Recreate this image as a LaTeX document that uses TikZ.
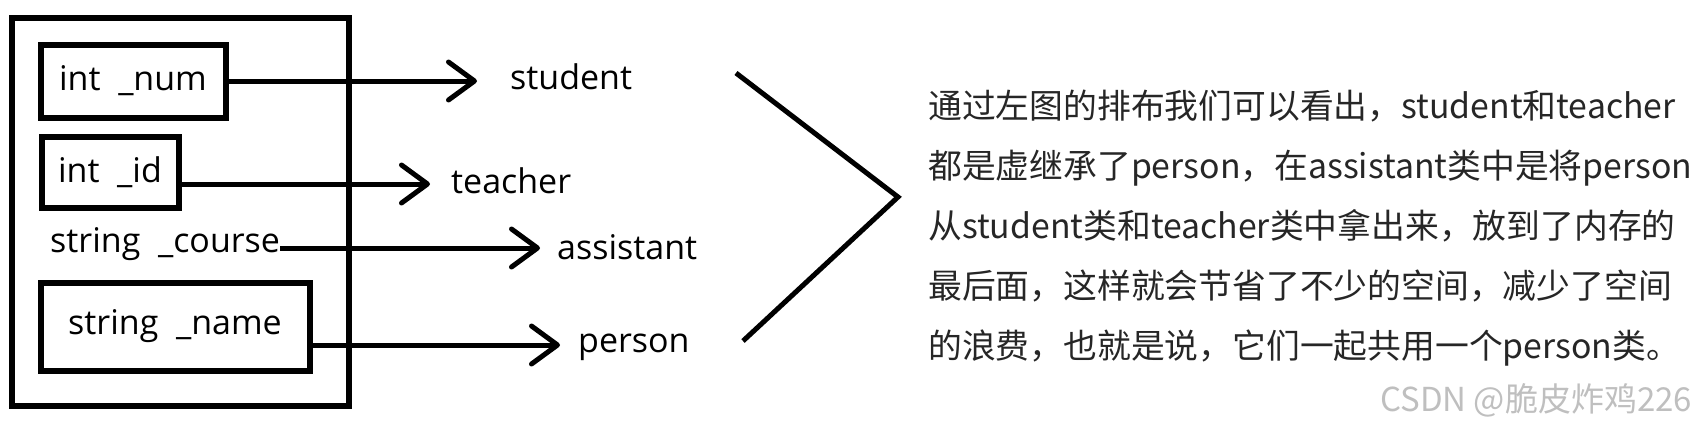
\documentclass[tikz,border=0pt]{standalone}
\usepackage{fontspec}
\setmainfont{Open Sans}
\newfontfamily\cjk{Noto Sans CJK SC}
\usetikzlibrary{arrows.meta}
\tikzset{
  field/.style={draw,line width=6pt,inner sep=0pt},
  label/.style={inner sep=0pt,anchor=base west},
  link/.style={line width=5pt,-{Straight Barb[length=26pt,width=38pt,line cap=round,line join=round]}}
}
\begin{document}
\begin{tikzpicture}[x=1pt,y=-1pt,font=\fontsize{34}{40}\selectfont]
\useasboundingbox (0,0) rectangle (1701,429);
\draw[line width=6pt] (12,18) rectangle (349,406);
\node[field,minimum width=185pt,minimum height=73pt] (num) at (133,81) {int\ \ \_num};
\node[field,minimum width=137pt,minimum height=71pt] (id) at (110,172) {int\ \ \_id};
\node[inner sep=0pt,anchor=base west] (course) at (50,252) {string\ \ \_course};
\node[field,minimum width=269pt,minimum height=88pt] (name) at (175,326.5) {string\ \ \_name};

\node[label] (stu) at (510,89) {student};
\node[label] (tea) at (451,193) {teacher};
\node[label] (asst) at (557,259) {assistant};
\node[label] (pers) at (578,352) {person};

\draw[link,shorten >=33pt] (num.east |- 0,81) -- (stu.west |- 0,81);
\draw[link,shorten >=21pt] (id.east |- 0,184) -- (tea.west |- 0,184);
\draw[link,shorten >=17pt] (course.east |- 0,248) -- (asst.west |- 0,248);
\draw[link,shorten >=18pt] (name.east |- 0,345) -- (pers.west |- 0,345);

\coordinate (top) at (736,73);
\coordinate (tip) at (898,197);
\coordinate (bot) at (743,341);
\draw[line width=5pt] (top) -- (tip) -- (bot);

\node[anchor=west,align=left,inner sep=0pt,font=\cjk\fontsize{33.8}{60}\selectfont,text=black!85] (note) at (928,228)
  {通过左图的排布我们可以看出，student和teacher\\
   都是虚继承了person，在assistant类中是将person\\
   从student类和teacher类中拿出来，放到了内存的\\
   最后面，这样就会节省了不少的空间，减少了空间\\
   的浪费，也就是说，它们一起共用一个person类。};
\node[anchor=west,inner sep=0pt,font=\cjk\fontsize{33}{34}\selectfont,text=black!25] (mark) at (1380,400) {CSDN @脆皮炸鸡226};
\end{tikzpicture}
\end{document}
